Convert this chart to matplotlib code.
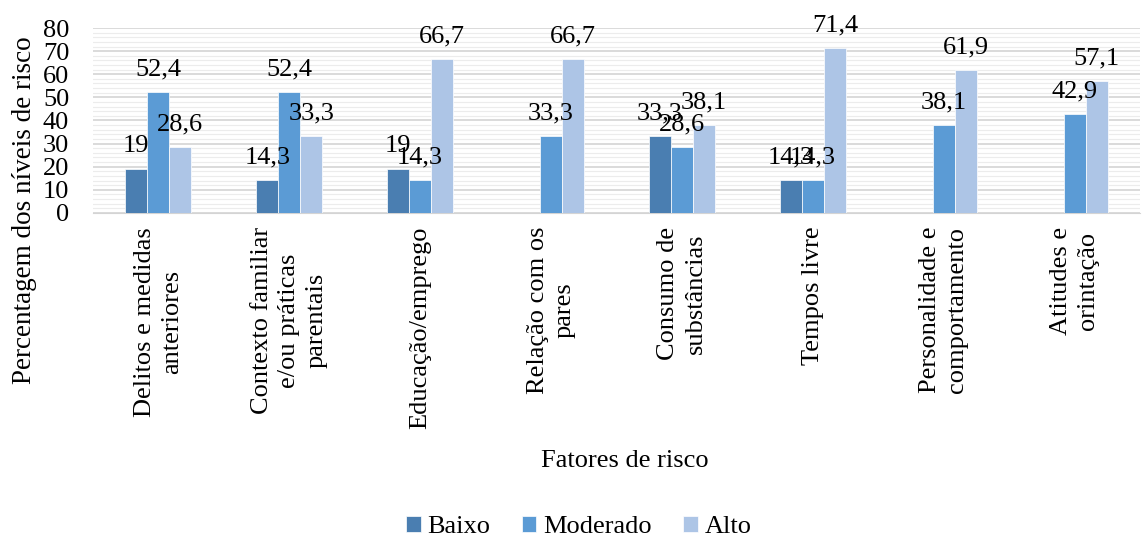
import numpy as np
import matplotlib
matplotlib.use("Agg")
from matplotlib import pyplot as plt
from matplotlib.ticker import MultipleLocator

plt.rcParams['font.family'] = ['Liberation Serif', 'DejaVu Serif']

categorias = ["Delitos e medidas\nanteriores",
              "Contexto familiar\ne/ou práticas\nparentais",
              "Educação/emprego",
              "Relação com os\npares",
              "Consumo de\nsubstâncias",
              "Tempos livre",
              "Personalidade e\ncomportamento",
              "Atitudes e\norintação"]
baixo = [19, 14.3, 19, None, 33.3, 14.3, None, None]
moderado = [52.4, 52.4, 14.3, 33.3, 28.6, 14.3, 38.1, 42.9]
alto = [28.6, 33.3, 66.7, 66.7, 38.1, 71.4, 61.9, 57.1]

series = [("Baixo", baixo, "#4a7eb1"),
          ("Moderado", moderado, "#5b9bd5"),
          ("Alto", alto, "#adc5e6")]


def fmt(v):
    s = ("%.1f" % v).rstrip("0").rstrip(".")
    return s.replace(".", ",")


fig = plt.figure(figsize=(11.46, 5.39), dpi=100)
ax = fig.add_axes([0.081, 0.605, 0.914, 0.343])

x = np.arange(len(categorias))
w = 0.168
for i, (nome, vals, cor) in enumerate(series):
    pos = x + (i - 1) * w
    h = [0 if v is None else v for v in vals]
    ax.bar(pos, h, width=w, color=cor, edgecolor="white", linewidth=0.5,
           label=nome, zorder=3)
    for p, v in zip(pos, vals):
        if v is None:
            continue
        ax.text(p, v + 5, fmt(v), ha="center", va="bottom", fontsize=19,
                zorder=4)

ax.set_ylim(0, 80)
ax.set_xlim(-0.5, len(categorias) - 0.5)
ax.yaxis.set_major_locator(MultipleLocator(10))
ax.yaxis.set_minor_locator(MultipleLocator(2))
ax.grid(axis="y", which="major", color="#d4d4d4", linewidth=1.2, zorder=0)
ax.grid(axis="y", which="minor", color="#ececec", linewidth=0.8, zorder=0)
for s in ["top", "right", "left"]:
    ax.spines[s].set_visible(False)
ax.spines["bottom"].set_color("#d4d4d4")
ax.tick_params(axis="both", which="both", length=0)
ax.tick_params(axis="y", labelsize=19, pad=17)
ax.set_xticks(x)
ax.set_xticklabels(categorias, rotation=90, fontsize=19, ha="center",
                   va="top", multialignment="center", linespacing=1.3)
ax.tick_params(axis="x", pad=10)

fig.text(25 / 1146, 1 - 210 / 539, "Percentagem dos níveis de risco",
         rotation=90, ha="center", va="center", fontsize=19.5)
fig.text(0.545, 0.145, "Fatores de risco", ha="center", va="center",
         fontsize=19)
fig.legend(loc="center", bbox_to_anchor=(0.505, 0.022), ncol=3, frameon=False,
           fontsize=19, handlelength=0.55, handleheight=0.55,
           handletextpad=0.25, columnspacing=1.2)

fig.savefig("out.png", dpi=100)
